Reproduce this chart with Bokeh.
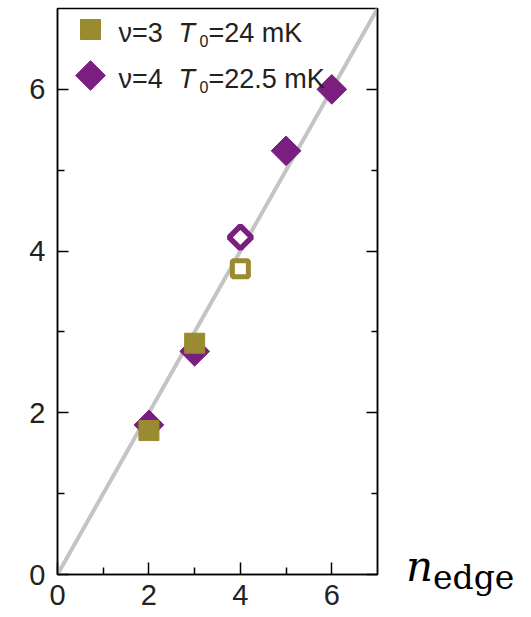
import numpy as np
from bokeh.plotting import figure
from bokeh.layouts import row
from bokeh.models import Range1d, FixedTicker, LinearAxis, Label, Div
from bokeh.embed import file_html
from bokeh.resources import INLINE

# reference line n = n_edge
fit_x = [0, 7]
fit_y = [0, 7]

# nu = 3, T0 = 24 mK (filled and open squares)
nu3_x = [2, 3]
nu3_y = [1.78, 2.86]
nu3_open_x = [4]
nu3_open_y = [3.78]

# nu = 4, T0 = 22.5 mK (filled and open diamonds)
nu4_x = [2, 3, 5, 6]
nu4_y = [1.85, 2.76, 5.24, 6.0]
nu4_open_x = [4]
nu4_open_y = [4.17]

major_ticks = [0, 2, 4, 6]
minor_ticks = [1, 3, 5]

legend_rows = [
    ("\u03bd=3", "=24 mK"),
    ("\u03bd=4", "=22.5 mK"),
]

OLIVE = "#9a8a30"
PURPLE = "#7a1f80"
GREY = "#c4c4c4"
INK = "#222222"

FRAME_W, FRAME_H = 320, 566
X0, X1, Y0, Y1 = 0, 7, 0, 7

p = figure(width=390, height=617, x_range=Range1d(X0, X1), y_range=Range1d(Y0, Y1),
           output_backend="svg", toolbar_location=None,
           min_border_left=57, min_border_right=13, min_border_top=8, min_border_bottom=43)
p.grid.visible = False
p.outline_line_color = "black"
p.outline_line_width = 1.5
p.background_fill_color = "white"
p.border_fill_color = "white"

ticker = FixedTicker(ticks=major_ticks, minor_ticks=minor_ticks)


def style_axis(ax, tick_len, minor_len):
    ax.ticker = ticker
    ax.axis_line_color = "black"
    ax.axis_line_width = 1.5
    ax.major_tick_line_color = "black"
    ax.minor_tick_line_color = "black"
    ax.major_tick_line_width = 1.5
    ax.minor_tick_line_width = 1.5
    ax.major_tick_in = tick_len
    ax.major_tick_out = 0
    ax.minor_tick_in = minor_len
    ax.minor_tick_out = 0
    ax.major_label_text_font = "Liberation Sans"
    ax.major_label_text_color = INK
    ax.major_label_text_font_size = "29px"


style_axis(p.xaxis[0], 12, 7)
p.xaxis.major_label_standoff = 10
style_axis(p.yaxis[0], 11, 7)
p.yaxis.major_label_standoff = 12

# mirrored ticks on the right edge, without numbers
right_axis = LinearAxis()
style_axis(right_axis, 11, 6)
right_axis.major_label_overrides = {t: "" for t in major_ticks}
p.add_layout(right_axis, "right")

# y = x guide
p.line(fit_x, fit_y, line_color=GREY, line_width=4)

# nu = 4 diamonds (rotated squares)
p.scatter(nu4_x, nu4_y, marker="square", angle=np.pi / 4, size=21,
          fill_color=PURPLE, line_color=PURPLE, line_width=1)
p.scatter(nu4_open_x, nu4_open_y, marker="square", angle=np.pi / 4, size=16,
          fill_color="white", line_color=PURPLE, line_width=5.5)

# nu = 3 squares
p.scatter(nu3_x, nu3_y, marker="square", size=20,
          fill_color=OLIVE, line_color=OLIVE, line_width=1)
p.scatter(nu3_open_x, nu3_open_y, marker="square", size=16,
          fill_color="white", line_color=OLIVE, line_width=5)


def px_to_data(px, py):
    return (X0 + px / FRAME_W * (X1 - X0), Y0 + py / FRAME_H * (Y1 - Y0))


# legend keys, positioned in frame pixels
kx, ky = px_to_data(33, 545)
p.scatter([kx], [ky], marker="square", size=20, fill_color=OLIVE, line_color=OLIVE)
kx, ky = px_to_data(33, 499)
p.scatter([kx], [ky], marker="square", angle=np.pi / 4, size=21,
          fill_color=PURPLE, line_color=PURPLE)

LEG_FONT = "Liberation Sans"
for (nu_txt, t_txt), base in zip(legend_rows, [542, 496]):
    common = dict(x_units="screen", y_units="screen", text_color=INK,
                  text_font=LEG_FONT, text_baseline="alphabetic")
    p.add_layout(Label(x=61, y=base, text=nu_txt, text_font_size="27px", **common))
    p.add_layout(Label(x=121, y=base, text="T", text_font_size="27px",
                       text_font_style="italic", **common))
    p.add_layout(Label(x=142, y=base - 8, text="0", text_font_size="16px", **common))
    p.add_layout(Label(x=151, y=base, text=t_txt, text_font_size="27px", **common))

# x-axis title n_edge, set beside the right end of the x axis
title_html = (
    '<div style="margin-top:546px; margin-left:16px; white-space:nowrap; '
    'font-family:\'DejaVu Serif\'; font-size:42px; line-height:42px; color:black;">'
    '<span style="font-style:italic;">n</span>'
    '<span style="font-size:33px; vertical-align:-8px;">edge</span>'
    '</div>'
)
side = Div(text=title_html, width=141, height=617,
           styles={"background-color": "white", "margin": "0", "padding": "0"})

open("out.html", "w").write(file_html(row(p, side), INLINE))
